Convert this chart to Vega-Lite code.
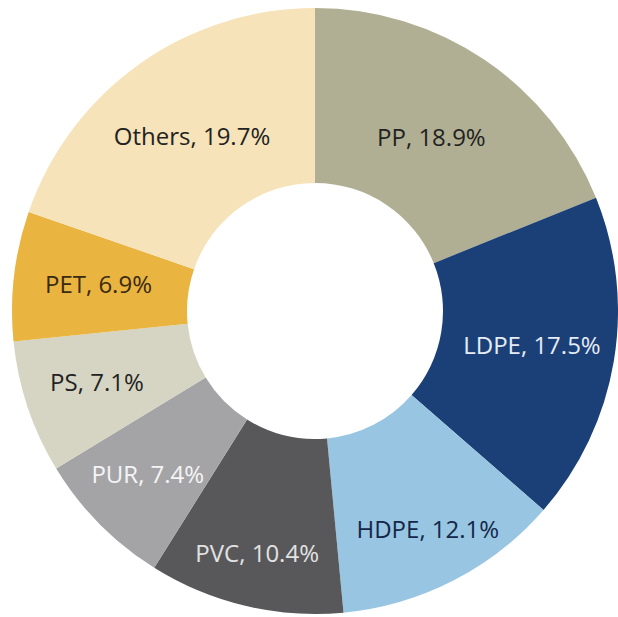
{
  "$schema": "https://vega.github.io/schema/vega-lite/v6.json",
  "width": 600,
  "height": 600,
  "autosize": "none",
  "padding": {"left": 15, "top": 11, "right": 3, "bottom": 6},
  "background": "white",
  "view": {"stroke": null},
  "data": {
    "values": [
      {"polymer": "PP", "share": 18.9, "order": 1, "label": "PP, 18.9%"},
      {"polymer": "LDPE", "share": 17.5, "order": 2, "label": "LDPE, 17.5%"},
      {"polymer": "HDPE", "share": 12.1, "order": 3, "label": "HDPE, 12.1%"},
      {"polymer": "PVC", "share": 10.4, "order": 4, "label": "PVC, 10.4%"},
      {"polymer": "PUR", "share": 7.4, "order": 5, "label": "PUR, 7.4%"},
      {"polymer": "PS", "share": 7.1, "order": 6, "label": "PS, 7.1%"},
      {"polymer": "PET", "share": 6.9, "order": 7, "label": "PET, 6.9%"},
      {"polymer": "Others", "share": 19.7, "order": 8, "label": "Others, 19.7%"}
    ]
  },
  "encoding": {
    "theta": {"field": "share", "type": "quantitative", "stack": true},
    "order": {"field": "order", "type": "quantitative"}
  },
  "layer": [
    {
      "mark": {"type": "arc", "outerRadius": 303, "innerRadius": 128},
      "encoding": {
        "color": {
          "field": "polymer",
          "type": "nominal",
          "scale": {
            "domain": ["PP", "LDPE", "HDPE", "PVC", "PUR", "PS", "PET", "Others"],
            "range": ["#b1af93", "#1b4078", "#98c5e2", "#58585a", "#a4a4a7", "#d6d5c3", "#e9b43f", "#f6e3b9"]
          },
          "legend": null
        }
      }
    },
    {
      "mark": {
        "type": "text",
        "radius": {"expr": "datum.polymer === 'HDPE' ? 247 : datum.polymer === 'PVC' ? 251 : datum.polymer === 'PS' ? 230 : datum.polymer === 'PUR' ? 235 : datum.polymer === 'PET' ? 218 : datum.polymer === 'PP' ? 208 : datum.polymer === 'LDPE' ? 220 : 212"},
        "font": "Open Sans",
        "fontSize": 24
      },
      "encoding": {
        "text": {"field": "label"},
        "color": {
          "field": "polymer",
          "type": "nominal",
          "scale": {
            "domain": ["PP", "LDPE", "HDPE", "PVC", "PUR", "PS", "PET", "Others"],
            "range": ["#222222", "#e6ecf5", "#14284a", "#e2e2e2", "#f5f5f5", "#222222", "#3a2a10", "#222222"]
          },
          "legend": null
        }
      }
    }
  ],
  "resolve": {"scale": {"color": "independent"}}
}
